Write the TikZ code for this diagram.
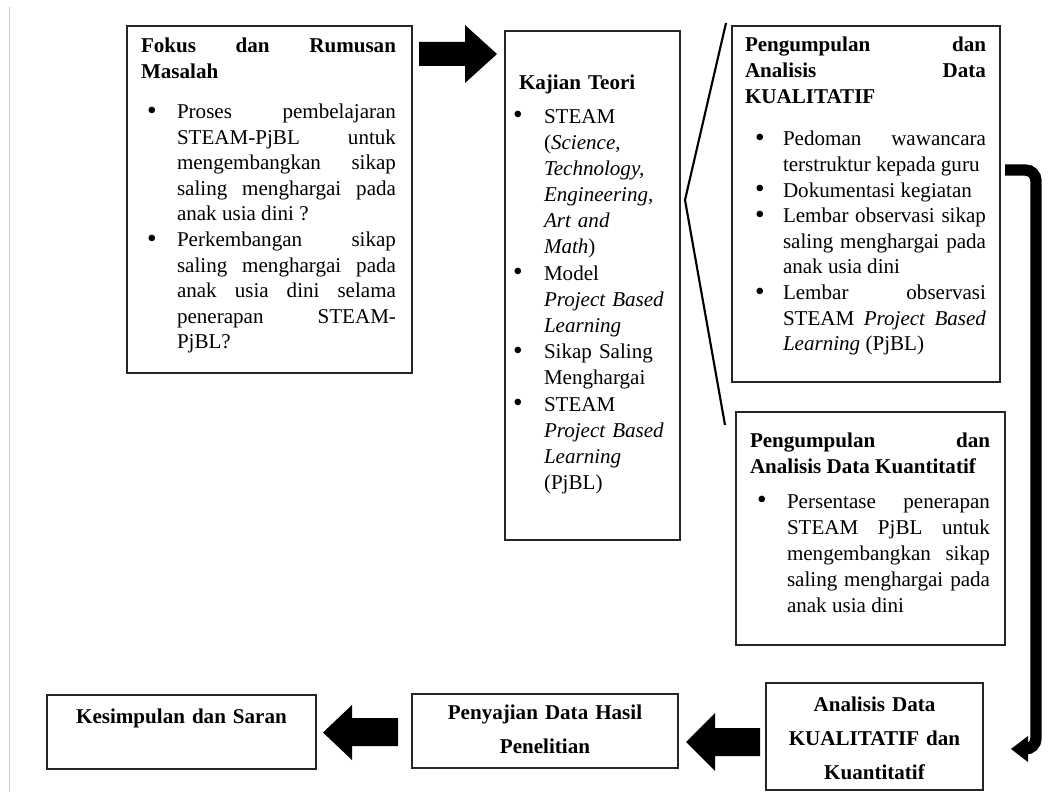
\documentclass[tikz,border=0pt]{standalone}
\usepackage{fontspec}
\setmainfont{Liberation Serif}
\usetikzlibrary{fit}
\newdimen\px \px=0.75pt
\newcommand\bigbul{\raisebox{-0.4pt}{\scalebox{1.3}{\textbullet}}}
\newcommand\bul[2]{\par\noindent\hangindent=#1\px\hangafter=0\llap{\makebox[#1\px][l]{\hspace{#2\px}\bigbul}}\ignorespaces}
\newcommand\bodyfont{\fontsize{15.8pt}{19.2pt}\selectfont\hyphenpenalty=10000\exhyphenpenalty=10000}
\tikzset{
  box/.style={draw=black!85, line width=1.1pt, inner sep=0pt, outer sep=0pt},
  txt/.style={anchor=base west, inner sep=0pt, outer sep=0pt, text width=#1, align=justify, font=\bodyfont},
  lefttxt/.style={anchor=base west, inner sep=0pt, outer sep=0pt, text width=#1, align=left, font=\bodyfont},
  btxt/.style={anchor=base, inner sep=0pt, outer sep=0pt, text width=260\px, align=center, font={\fontsize{15.8pt}{25.6pt}\selectfont\bfseries}},
  blockarrow/.style={fill=black},
}
\begin{document}
\begin{tikzpicture}[x=0.75pt,y=-0.75pt]
\useasboundingbox (0,0) rectangle (1054,792);
% left grey rule
\draw[black!20, line width=1.1pt] (9.5,7) -- (9.5,792);

% boxes
\node[box, fit={(127,26) (412,373)}] (b1) {};
\node[box, fit={(505,31) (680,540)}] (b2) {};
\node[box, fit={(732,26) (1000,382)}] (b3) {};
\node[box, fit={(736,412) (1005,645)}] (b4) {};
\node[box, fit={(47,695) (316,769)}] (b5) {};
\node[box, fit={(412,694) (678,768)}] (b6) {};
\node[box, fit={(766,683) (983,790)}] (b7) {};

% box 1 text
\node[txt=255\px] (t1) at (141,53) {\baselineskip=25.6\px
\textbf{Fokus~dan~Rumusan\linebreak Masalah}\par\vspace{14.4\px}%
\bul{36}{6}Proses~pembelajaran\linebreak STEAM-PjBL~untuk\linebreak mengembangkan~sikap\linebreak saling~menghargai~pada\linebreak anak~usia~dini~?%
\bul{36}{6}Perkembangan~sikap\linebreak saling~menghargai~pada\linebreak anak~usia~dini~selama\linebreak penerapan~STEAM-\linebreak PjBL?\par};

% box 2 text
\node[lefttxt=165\px] (t2) at (510,90) {\baselineskip=26.2\px
\hspace*{9\px}\textbf{Kajian Teori}\par\vspace{6.8\px}%
\bul{34}{3}STEAM\newline (\textit{Science,\newline Technology,\newline Engineering,\newline Art~and\newline Math})%
\bul{34}{3}Model\newline \textit{Project~Based\newline Learning}%
\bul{34}{3}Sikap~Saling\newline Menghargai%
\bul{34}{3}STEAM\newline \textit{Project~Based\newline Learning}\newline (PjBL)\par};

% box 3 text
\node[txt=241\px] (t3) at (745,52) {\baselineskip=25.6\px
\textbf{Pengumpulan~dan\linebreak Analisis~Data\linebreak KUALITATIF}\par\vspace{17.2\px}%
\bul{38}{10}Pedoman~wawancara\linebreak terstruktur~kepada~guru%
\bul{38}{10}Dokumentasi~kegiatan%
\bul{38}{10}Lembar~observasi~sikap\linebreak saling~menghargai~pada\linebreak anak~usia~dini%
\bul{38}{10}Lembar~observasi\linebreak STEAM~\textit{Project~Based\linebreak Learning}~(PjBL)\par};

% box 4 text
\node[txt=240\px] (t4) at (750,447) {\baselineskip=26\px
\textbf{Pengumpulan~dan\linebreak Analisis~Data~Kuantitatif}\par\vspace{9\px}%
\bul{37}{7}Persentase~penerapan\linebreak STEAM~PjBL~untuk\linebreak mengembangkan~sikap\linebreak saling~menghargai~pada\linebreak anak~usia~dini\par};

% bottom row texts
\node[btxt] (t5) at (181.5,723) {Kesimpulan dan Saran};
\node[btxt] (t6) at (545,719) {Penyajian Data Hasil\\Penelitian};
\node[btxt] (t7) at (874.5,711) {Analisis Data\\KUALITATIF dan\\Kuantitatif};

% block arrows
\fill[blockarrow] (419,42) -- (465,42) -- (465,25) -- (497,54) -- (465,83) -- (465,66) -- (419,66) -- cycle;
\fill[blockarrow] (398,718) -- (352,718) -- (352,705) -- (323,732.5) -- (352,760) -- (352,746) -- (398,746) -- cycle;
\fill[blockarrow] (760,728) -- (715,728) -- (715,713) -- (686,742) -- (715,771) -- (715,756) -- (760,756) -- cycle;

% bracket lines
\draw[line width=1.6pt] (726,23) -- (685,200) -- (725,425);

% bent arrow
\draw[line width=8.5pt, rounded corners=8pt] (1005,170) -- (1036,170) -- (1036,749) -- (1024,749);
\fill[blockarrow] (1011,749) -- (1028,736) -- (1028,762) -- cycle;
\end{tikzpicture}
\end{document}
